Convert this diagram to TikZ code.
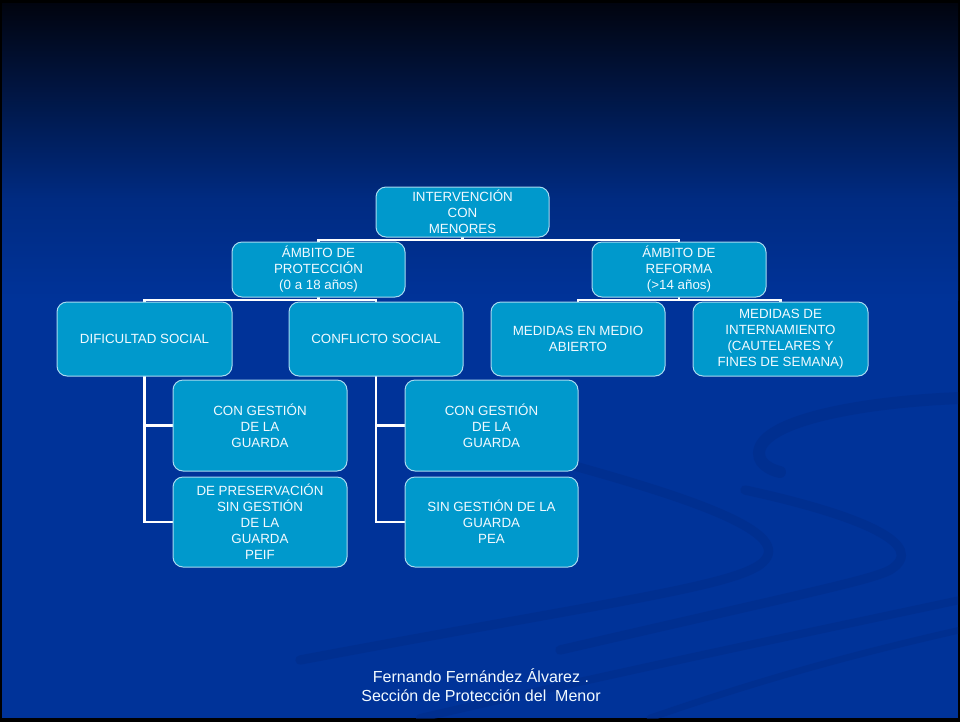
\documentclass[tikz,border=0pt]{standalone}
\usepackage{fontspec}
\setmainfont{Liberation Sans}
\usetikzlibrary{calc}
\pgfdeclarelayer{back}
\pgfdeclarelayer{conn}
\pgfsetlayers{back,conn,main}
\definecolor{bgtop}{HTML}{01040F}
\definecolor{bgmid}{HTML}{002B82}
\definecolor{bgblue}{HTML}{003399}
\definecolor{swoosh}{HTML}{002C8A}
\definecolor{boxblue}{HTML}{0099CC}
\definecolor{boxedge}{HTML}{A8DAF0}
\definecolor{txt}{HTML}{F2FAFF}
\tikzset{
  box/.style={draw=boxedge, line width=0.75pt, fill=boxblue, rounded corners=7.5pt,
    text=txt, align=center, inner sep=0pt,
    font=\fontsize{10pt}{12pt}\selectfont},
  conn/.style={draw=white, line width=2.2pt, line cap=rect},
  sw/.style={draw=swoosh, line cap=round, opacity=0.55},
  foot/.style={text=txt, align=center, inner sep=0pt,
    font=\fontsize{12pt}{14pt}\selectfont}
}
\begin{document}
\begin{tikzpicture}[x=0.75pt, y=-0.75pt]
\useasboundingbox (0,0) rectangle (960,722);
\begin{pgfonlayer}{back}
  \fill[black] (0,0) rectangle (960,722);
  \shade[top color=bgtop, bottom color=bgmid] (2,3) rectangle (958,200);
  \shade[top color=bgmid, bottom color=bgblue] (2,200) rectangle (958,300);
  \fill[bgblue] (2,299.5) rectangle (958,718);
  % faint swooshes
  \begin{scope}
  \clip (2,3) rectangle (958,718);
  \draw[sw, line width=9pt] (960,398) .. controls (860,402) and (770,420) .. (760,448) .. controls (755,462) and (770,470) .. (780,472);
  \draw[sw, line width=7pt] (560,462) .. controls (680,495) and (790,530) .. (765,560) .. controls (745,585) and (620,600) .. (300,660);
  \draw[sw, line width=7pt] (745,490) .. controls (860,515) and (930,545) .. (890,570) .. controls (870,580) and (820,590) .. (560,650);
  \draw[sw, line width=6pt] (960,600) .. controls (820,630) and (650,665) .. (420,718);
  \draw[sw, line width=5pt] (960,630) .. controls (850,655) and (760,680) .. (650,718);
  \end{scope}
\end{pgfonlayer}

% nodes
\node[box, minimum width=129.75pt, minimum height=37.5pt] (root) at (462.5,212) {INTERVENCIÓN\\CON\\MENORES};
\node[box, minimum width=129.75pt, minimum height=41.25pt] (prot) at (318.5,269.5) {ÁMBITO DE\\PROTECCIÓN\\(0 a 18 años)};
\node[box, minimum width=130.5pt, minimum height=41.25pt] (ref) at (679,269.5) {ÁMBITO DE\\REFORMA\\(>14 años)};
\node[box, minimum width=131.25pt, minimum height=55.5pt] (dif) at (144.5,339) {DIFICULTAD SOCIAL};
\node[box, minimum width=130.5pt, minimum height=55.5pt] (conf) at (376,339) {CONFLICTO SOCIAL};
\node[box, minimum width=130.5pt, minimum height=55.5pt] (med) at (578,339) {MEDIDAS EN MEDIO\\ABIERTO};
\node[box, minimum width=131.25pt, minimum height=55.5pt] (intern) at (780.5,339) {MEDIDAS DE\\INTERNAMIENTO\\(CAUTELARES Y\\FINES DE SEMANA)};
\node[box, minimum width=130.5pt, minimum height=68.25pt] (cg1) at (260,425.5) {CON GESTIÓN\\DE LA\\GUARDA};
\node[box, minimum width=130.5pt, minimum height=67.5pt] (pr1) at (260,522) {DE PRESERVACIÓN\\SIN GESTIÓN\\DE LA\\GUARDA\\PEIF};
\node[box, minimum width=129.75pt, minimum height=68.25pt] (cg2) at (491.5,425.5) {CON GESTIÓN\\DE LA\\GUARDA};
\node[box, minimum width=129.75pt, minimum height=67.5pt] (sg2) at (491.5,522) {SIN GESTIÓN DE LA\\GUARDA\\PEA};

\node[foot] (footer) at (481,685) {Fernando Fernández Álvarez .\\Sección de Protección del~ Menor};

% connectors
\coordinate (j0) at (462.5,240);
\coordinate (j1) at (318.5,300);
\coordinate (j2) at (679,300);
\begin{pgfonlayer}{conn}
  \draw[conn] (root.south) -- (j0);
  \draw[conn] (prot.north) -- (prot.north |- j0) -- (ref.north |- j0) -- (ref.north);
  \draw[conn] (prot.south) -- (j1);
  \draw[conn] (dif.north) -- (dif.north |- j1) -- (conf.north |- j1) -- (conf.north);
  \draw[conn] (ref.south) -- (j2);
  \draw[conn] (med.north) -- (med.north |- j2) -- (intern.north |- j2) -- (intern.north);
  \draw[conn] (dif.south) |- (pr1.west);
  \draw[conn] (dif.south |- cg1.west) -- (cg1.west);
  \draw[conn] (conf.south) |- (sg2.west);
  \draw[conn] (conf.south |- cg2.west) -- (cg2.west);
\end{pgfonlayer}
\end{tikzpicture}
\end{document}
